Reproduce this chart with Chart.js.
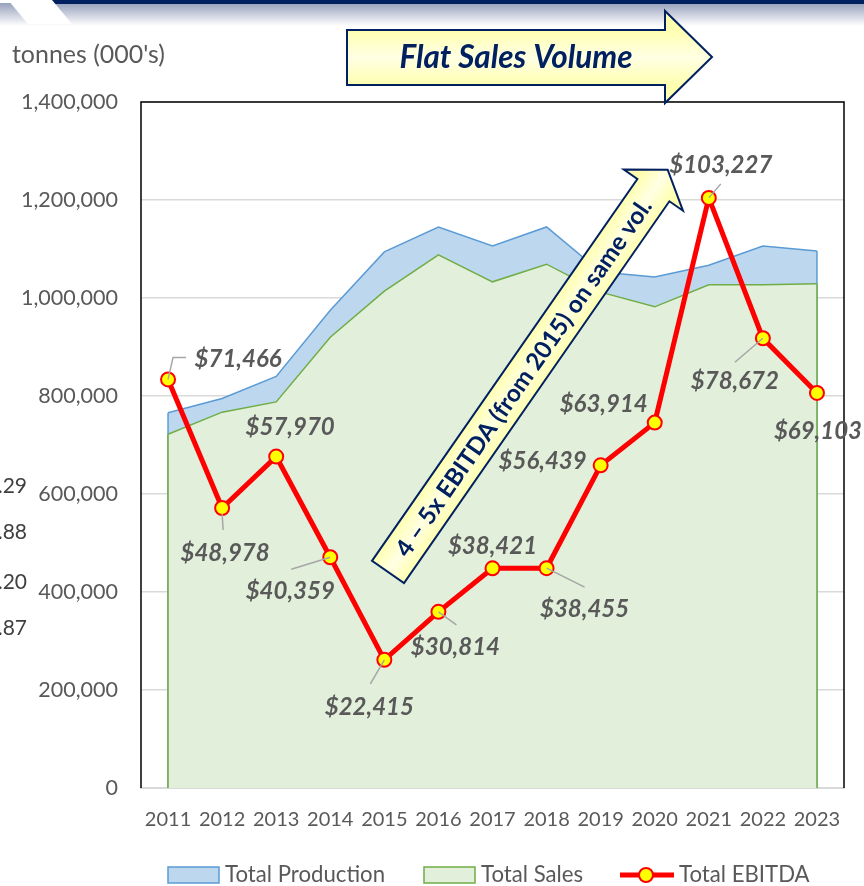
<!DOCTYPE html>
<html>
<head>
<meta charset="utf-8">
<script src="https://cdn.jsdelivr.net/npm/chart.js@4.4.1/dist/chart.umd.min.js"></script>
<style>
  html, body { margin: 0; padding: 0; background: #fff; }
  #wrap { width: 864px; height: 886px; }
</style>
</head>
<body>
<div id="wrap"><canvas id="myChart" width="864" height="886"></canvas></div>
<script>
/* globals Chart:false */

// Data
const years = ['2011', '2012', '2013', '2014', '2015', '2016', '2017', '2018', '2019', '2020', '2021', '2022', '2023'];
const totalProduction = [766000, 795000, 840000, 975000, 1094000, 1145000, 1106000, 1145000, 1053000, 1043000, 1067000, 1106000, 1096000];
const totalSales = [722000, 767000, 788000, 920000, 1014000, 1088000, 1033000, 1069000, 1012000, 982000, 1027000, 1027000, 1029000];
const totalEbitda = [71466, 48978, 57970, 40359, 22415, 30814, 38421, 38455, 56439, 63914, 103227, 78672, 69103];
const seriesNames = ['Total Production', 'Total Sales', 'Total EBITDA'];

const GREY = '#595959';
const NAVY = '#002060';
const FONT = 'Lato, "Open Sans", sans-serif';

// where each EBITDA label sits, relative to its point (centre of text)
const labelOffsets = [[70, -20], [3, 45], [14, -29], [-40, 34], [-15, 47], [17, 35], [0, -22], [38, 41], [-58, -4], [-51, -18], [12, -33], [-28, 43], [1, 38]];
// leader lines, relative to the point
const leaderLines = [
  [[0, 0], [5, -22], [18, -22]],
  [[0, 6], [1, 22]],
  null,
  [[0, 0], [-39, 12]],
  [[0, 0], [-14, 24]],
  [[0, 0], [18, 13]],
  null,
  [[0, 0], [38, 19]],
  null,
  null,
  [[0, 0], [12, -14]],
  [[0, 0], [-28, 24]],
  null
];

// size a font so that the text takes the given width
function fitFont(ctx, text, prefix, width) {
  ctx.font = prefix + ' 20px ' + FONT;
  const w = ctx.measureText(text).width;
  return prefix + ' ' + (20 * width / w).toFixed(2) + 'px ' + FONT;
}

function yellowFill(ctx, x0, y0, x1, y1) {
  const g = ctx.createLinearGradient(x0, y0, x1, y1);
  g.addColorStop(0, '#FFFFB0');
  g.addColorStop(0.5, '#FFFFE4');
  g.addColorStop(1, '#FFFFB0');
  return g;
}

const slideDecor = {
  id: 'slideDecor',
  beforeDraw(chart) {
    const ctx = chart.ctx;
    ctx.save();
    ctx.fillStyle = '#fff';
    ctx.fillRect(0, 0, chart.width, chart.height);

    // header strip of the slide
    const g = ctx.createLinearGradient(0, 3, 0, 26);
    g.addColorStop(0, '#98A1BC');
    g.addColorStop(1, '#FFFFFF');
    ctx.fillStyle = g;
    ctx.fillRect(0, 3, chart.width, 24);
    ctx.fillStyle = NAVY;
    ctx.fillRect(50, 0, chart.width, 4);
    ctx.fillStyle = '#fff';
    ctx.beginPath();
    ctx.moveTo(8, 0);
    ctx.lineTo(52, 0);
    ctx.lineTo(72, 24);
    ctx.lineTo(28, 24);
    ctx.closePath();
    ctx.fill();

    // axis title
    ctx.fillStyle = GREY;
    ctx.textBaseline = 'middle';
    ctx.textAlign = 'left';
    ctx.font = fitFont(ctx, "tonnes (000's)", 'normal', 153);
    ctx.fillText("tonnes (000's)", 12, 55);

    // bits of a neighbouring table cut by the left edge
    ctx.fillStyle = '#404040';
    ctx.textAlign = 'right';
    ctx.font = '21px ' + FONT;
    [['.29', 486], ['.88', 532], ['.20', 582], ['.87', 628]].forEach(([t, y]) => ctx.fillText(t, 27, y));
    ctx.restore();
  },

  afterDatasetDraw(chart, args) {
    // Excel area charts close their outline down to the axis
    if (args.index > 1) return;
    const ctx = chart.ctx;
    const pts = args.meta.data;
    const base = chart.scales.y.getPixelForValue(0);
    ctx.save();
    ctx.strokeStyle = chart.data.datasets[args.index].borderColor;
    ctx.lineWidth = 1.5;
    [pts[0], pts[pts.length - 1]].forEach(p => {
      ctx.beginPath();
      ctx.moveTo(p.x, p.y);
      ctx.lineTo(p.x, base);
      ctx.stroke();
    });
    ctx.restore();
  },

  afterDatasetsDraw(chart) {
    const ctx = chart.ctx;
    const area = chart.chartArea;
    ctx.save();
    // black frame on top, left and right
    ctx.strokeStyle = '#000';
    ctx.lineWidth = 1.5;
    ctx.beginPath();
    ctx.moveTo(area.left, area.bottom);
    ctx.lineTo(area.left, area.top);
    ctx.lineTo(area.right, area.top);
    ctx.lineTo(area.right, area.bottom);
    ctx.stroke();

    // EBITDA labels with leader lines
    const meta = chart.getDatasetMeta(2);
    ctx.strokeStyle = '#A6A6A6';
    ctx.lineWidth = 1.5;
    meta.data.forEach((p, i) => {
      const lead = leaderLines[i];
      if (!lead) return;
      ctx.beginPath();
      lead.forEach(([dx, dy], k) => {
        if (k === 0) ctx.moveTo(p.x + dx, p.y + dy);
        else ctx.lineTo(p.x + dx, p.y + dy);
      });
      ctx.stroke();
    });
    ctx.fillStyle = GREY;
    ctx.textAlign = 'center';
    ctx.textBaseline = 'middle';
    ctx.font = fitFont(ctx, '$71,466', 'italic bold', 87);
    meta.data.forEach((p, i) => {
      const [dx, dy] = labelOffsets[i];
      ctx.fillText('$' + totalEbitda[i].toLocaleString('en-US'), p.x + dx, p.y + dy);
    });
    ctx.restore();
  },

  afterDraw(chart) {
    const ctx = chart.ctx;
    ctx.save();

    // "Flat Sales Volume" block arrow
    ctx.beginPath();
    ctx.moveTo(347, 30);
    ctx.lineTo(665, 30);
    ctx.lineTo(665, 11);
    ctx.lineTo(712, 57);
    ctx.lineTo(665, 103);
    ctx.lineTo(665, 85);
    ctx.lineTo(347, 85);
    ctx.closePath();
    ctx.fillStyle = yellowFill(ctx, 0, 30, 0, 85);
    ctx.fill();
    ctx.strokeStyle = NAVY;
    ctx.lineWidth = 2;
    ctx.stroke();
    ctx.fillStyle = NAVY;
    ctx.textAlign = 'center';
    ctx.textBaseline = 'middle';
    ctx.font = fitFont(ctx, 'Flat Sales Volume', 'italic bold', 233);
    ctx.fillText('Flat Sales Volume', 516, 58);

    // diagonal "4 – 5x EBITDA" arrow
    ctx.translate(388, 572);
    ctx.rotate(-55.2 * Math.PI / 180);
    ctx.beginPath();
    ctx.moveTo(0, -19.5);
    ctx.lineTo(465, -19.5);
    ctx.lineTo(465, -36);
    ctx.lineTo(490, 0);
    ctx.lineTo(465, 36);
    ctx.lineTo(465, 19.5);
    ctx.lineTo(0, 19.5);
    ctx.closePath();
    ctx.fillStyle = yellowFill(ctx, 0, -19.5, 0, 19.5);
    ctx.fill();
    ctx.strokeStyle = NAVY;
    ctx.lineWidth = 2;
    ctx.stroke();
    ctx.fillStyle = NAVY;
    const note = '4 \u2013 5x EBITDA (from 2015) on same vol.';
    ctx.font = fitFont(ctx, note, 'bold', 430);
    ctx.fillText(note, 237, 1);
    ctx.setTransform(1, 0, 0, 1, 0, 0);

    // legend
    const ly = 875;
    ctx.textAlign = 'left';
    ctx.font = fitFont(ctx, seriesNames[0], 'normal', 160);
    ctx.lineWidth = 1.5;
    ctx.fillStyle = '#BDD7EE';
    ctx.fillRect(168, 867, 51, 16);
    ctx.strokeStyle = '#5B9BD5';
    ctx.strokeRect(168, 867, 51, 16);
    ctx.fillStyle = '#E2EFDA';
    ctx.fillRect(424, 867, 51, 16);
    ctx.strokeStyle = '#70AD47';
    ctx.strokeRect(424, 867, 51, 16);
    ctx.strokeStyle = '#FF0000';
    ctx.lineWidth = 5;
    ctx.beginPath();
    ctx.moveTo(620, ly);
    ctx.lineTo(674, ly);
    ctx.stroke();
    ctx.beginPath();
    ctx.arc(646, ly, 7, 0, Math.PI * 2);
    ctx.fillStyle = '#FFFF00';
    ctx.fill();
    ctx.lineWidth = 2;
    ctx.stroke();
    ctx.fillStyle = GREY;
    ctx.fillText(seriesNames[0], 225, ly);
    ctx.fillText(seriesNames[1], 481, ly);
    ctx.fillText(seriesNames[2], 679, ly);
    ctx.restore();
  }
};

const ctx = document.getElementById('myChart');
// eslint-disable-next-line no-unused-vars
const myChart = new Chart(ctx, {
  type: 'line',
  data: {
    labels: years,
    datasets: [{
      label: seriesNames[0],
      data: totalProduction,
      fill: 'origin',
      backgroundColor: '#BDD7EE',
      borderColor: '#5B9BD5',
      borderWidth: 1.5,
      pointRadius: 0,
      lineTension: 0,
      yAxisID: 'y',
      order: 2
    }, {
      label: seriesNames[1],
      data: totalSales,
      fill: 'origin',
      backgroundColor: '#E2EFDA',
      borderColor: '#70AD47',
      borderWidth: 1.5,
      pointRadius: 0,
      lineTension: 0,
      yAxisID: 'y',
      order: 1
    }, {
      label: seriesNames[2],
      data: totalEbitda,
      fill: false,
      borderColor: '#FF0000',
      borderWidth: 5,
      pointRadius: 7,
      pointBackgroundColor: '#FFFF00',
      pointBorderColor: '#FF0000',
      pointBorderWidth: 2,
      lineTension: 0,
      clip: false,
      yAxisID: 'y1',
      order: 0
    }]
  },
  options: {
    responsive: false,
    animation: false,
    layout: {
      padding: { left: 0, right: 20, top: 102, bottom: 0 }
    },
    plugins: {
      legend: { display: false },
      tooltip: { enabled: false }
    },
    scales: {
      x: {
        offset: true,
        grid: { display: false, drawTicks: false },
        border: { display: true, color: '#D9D9D9', width: 2 },
        ticks: {
          color: GREY,
          font: { family: FONT, size: 20 },
          padding: 20,
          maxRotation: 0,
          autoSkip: false
        },
        afterFit(scale) { scale.height = 98; }
      },
      y: {
        min: 0,
        max: 1400000,
        grid: { color: '#D9D9D9', lineWidth: 1.5, drawTicks: false },
        border: { display: false },
        ticks: {
          stepSize: 200000,
          color: GREY,
          font: { family: FONT, size: 21.5 },
          padding: 23,
          callback: v => v.toLocaleString('en-US')
        },
        afterFit(scale) { scale.width = 141; }
      },
      y1: {
        display: false,
        min: 0,
        max: 120000
      }
    }
  },
  plugins: [slideDecor]
});
</script>
</body>
</html>
